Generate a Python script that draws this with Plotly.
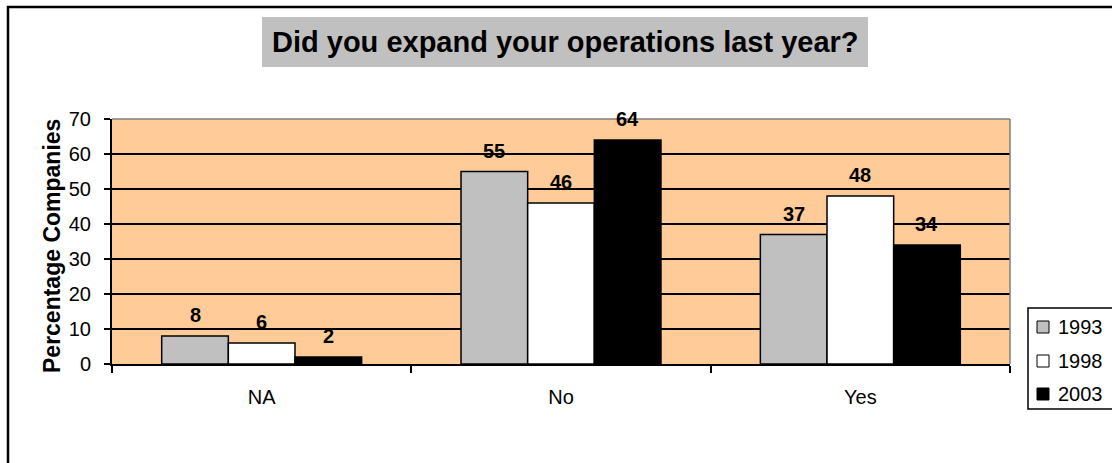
import plotly.graph_objects as go

# Survey answers, share of companies (%)
categories = ["NA", "No", "Yes"]
years = ["1993", "1998", "2003"]
values_1993 = [8, 55, 37]
values_1998 = [6, 46, 48]
values_2003 = [2, 64, 34]
y_ticks = [0, 10, 20, 30, 40, 50, 60, 70]

series = [values_1993, values_1998, values_2003]
fills = ["#C0C0C0", "#FFFFFF", "#000000"]

W, H = 1112, 463
ML, MR, MT, MB = 112, 102, 119, 99
PW, PH = W - ML - MR, H - MT - MB
BARGAP = 0.332
FONT = "Arial, Liberation Sans, sans-serif"


def px_x(x):
    return (x - ML) / PW


def px_y(y):
    return (H - MB - y) / PH


fig = go.Figure()
for name, vals, col in zip(years, series, fills):
    fig.add_trace(go.Bar(
        x=categories, y=vals, name=name,
        marker=dict(color=col, line=dict(color="black", width=1.5)),
        showlegend=False, hoverinfo="x+y+name",
    ))

# value labels above each bar
bar_px = PW / len(categories) * (1 - BARGAP) / len(series)
annotations = []
for i, vals in enumerate(series):
    for cat, v in zip(categories, vals):
        annotations.append(dict(
            x=cat, y=v, xref="x", yref="y", text=f"<b>{v}</b>",
            showarrow=False, xshift=(i - (len(series) - 1) / 2) * bar_px,
            yanchor="bottom", yshift=8,
            font=dict(family=FONT, size=20, color="black"),
        ))

# title
annotations.append(dict(
    x=px_x(565), y=px_y(42), xref="paper", yref="paper",
    text="<b>Did you expand your operations last year?</b>", showarrow=False,
    xanchor="center", yanchor="middle",
    font=dict(family=FONT, size=29, color="black"),
))
# y axis title
annotations.append(dict(
    x=px_x(52), y=px_y(246), xref="paper", yref="paper",
    text="<b>Percentage Companies</b>", showarrow=False, textangle=-90,
    xanchor="center", yanchor="middle",
    font=dict(family=FONT, size=23, color="black"),
))

shapes = [
    # outer chart frame
    dict(type="rect", xref="paper", yref="paper",
         x0=px_x(8), x1=px_x(1120), y0=px_y(470), y1=px_y(7),
         line=dict(color="black", width=2.5), fillcolor="rgba(0,0,0,0)", layer="below"),
    # title box
    dict(type="rect", xref="paper", yref="paper",
         x0=px_x(262), x1=px_x(868), y0=px_y(67), y1=px_y(17),
         line=dict(width=0), fillcolor="#C0C0C0", layer="below"),
    # plot area top and right edges
    dict(type="line", xref="paper", yref="paper", x0=0, x1=1, y0=1, y1=1,
         line=dict(color="#808080", width=1.5), layer="above"),
    dict(type="line", xref="paper", yref="paper", x0=1, x1=1, y0=0, y1=1,
         line=dict(color="#808080", width=1.5), layer="above"),
    # legend box
    dict(type="rect", xref="paper", yref="paper",
         x0=px_x(1028), x1=px_x(1120), y0=px_y(409), y1=px_y(308),
         line=dict(color="black", width=1.5), fillcolor="white"),
]

# legend entries
legend_rows = [327, 361, 394]
for name, col, yc in zip(years, fills, legend_rows):
    shapes.append(dict(
        type="rect", xref="paper", yref="paper",
        x0=px_x(1037), x1=px_x(1049), y0=px_y(yc + 6), y1=px_y(yc - 6),
        line=dict(color="black", width=1), fillcolor=col,
    ))
    annotations.append(dict(
        x=px_x(1056), y=px_y(yc), xref="paper", yref="paper", text=name,
        showarrow=False, xanchor="left", yanchor="middle",
        font=dict(family=FONT, size=20, color="black"),
    ))

fig.update_layout(
    width=W, height=H,
    margin=dict(l=ML, r=MR, t=MT, b=MB, pad=0),
    paper_bgcolor="white", plot_bgcolor="#FFCC99",
    barmode="group", bargap=BARGAP, bargroupgap=0,
    font=dict(family=FONT, size=20, color="black"),
    annotations=annotations, shapes=shapes,
    xaxis=dict(
        type="category", showgrid=False, showline=True, linecolor="black",
        linewidth=2, ticks="outside", tickson="boundaries", ticklen=7,
        tickwidth=1.5, tickcolor="black", ticklabelstandoff=14,
        tickfont=dict(family=FONT, size=20, color="black"), fixedrange=True,
    ),
    yaxis=dict(
        range=[0, 70], tickvals=y_ticks, showgrid=True, gridcolor="black",
        gridwidth=1.6, zeroline=False, showline=True, linecolor="black",
        linewidth=2, ticks="outside", ticklen=6, tickwidth=2, tickcolor="black",
        ticklabelstandoff=9, tickfont=dict(family=FONT, size=20, color="black"),
        fixedrange=True,
    ),
)

fig.write_html("out.html")
